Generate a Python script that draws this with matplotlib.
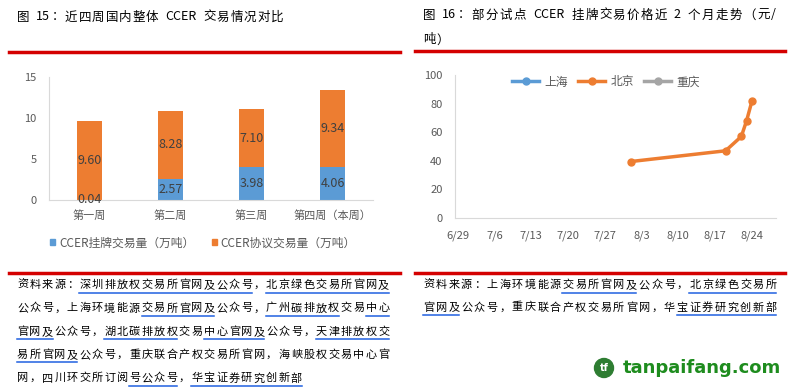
import numpy as np
import pandas as pd
import matplotlib
matplotlib.use('Agg')
import matplotlib.pyplot as plt
import matplotlib.dates as mdates
from matplotlib.lines import Line2D
from matplotlib.patches import Patch, Ellipse

plt.rcParams['font.family'] = ['Noto Sans CJK SC', 'DejaVu Sans']

# ---- data ----
weeks = ['第一周', '第二周', '第三周', '第四周（本周）']
listed_vol = [0.04, 2.57, 3.98, 4.06]        # CCER挂牌交易量（万吨）
negotiated_vol = [9.60, 8.28, 7.10, 9.34]    # CCER协议交易量（万吨）

price_dates = ['8/1', '8/19', '8/22', '8/23', '8/24']
beijing_price = [39.5, 47, 57, 68, 81.5]
shanghai_price = []
chongqing_price = []
date_ticks = ['6/29', '7/6', '7/13', '7/20', '7/27', '8/3', '8/10', '8/17', '8/24']

BLUE = '#5B9BD5'
ORANGE = '#ED7D31'
GRAY = '#A5A5A5'
TICK = '#595959'
SPINE = '#D9D9D9'
RED = '#D40000'
ULINE = '#2060E0'

W, H = 793, 390
fig = plt.figure(figsize=(W / 100, H / 100), dpi=100)
renderer = fig.canvas.get_renderer()


def fx(x):
    return x / W


def fy(y):
    return 1 - y / H


def hline(x0, x1, y, color, lw):
    fig.add_artist(Line2D([fx(x0), fx(x1)], [fy(y), fy(y)], color=color, lw=lw,
                          transform=fig.transFigure))


def chunks(seg):
    # split into single CJK chars, spaces and runs of latin chars
    out, buf = [], ''
    for ch in seg:
        if ord(ch) > 0x2e80 or ch == ' ':
            if buf:
                out.append(buf)
                buf = ''
            out.append(ch)
        else:
            buf += ch
    if buf:
        out.append(buf)
    return out


def put_line(x, y, parts, size, pitch, color='black'):
    # parts: list of (text, underlined)
    for seg, ul in parts:
        start = x
        for ch in chunks(seg):
            if ch == ' ':
                x += 5.5
                continue
            t = fig.text(fx(x), fy(y), ch, fontsize=size, color=color, va='center', ha='left')
            if ord(ch[0]) > 0x2e80:
                x += pitch
            else:
                x += t.get_window_extent(renderer).width + 1.5
        if ul:
            hline(start, x - (pitch - size * 100 / 72) - 0.5, y + 7.5, ULINE, 1.1)
    return x


# ---- left chart ----
ax1 = fig.add_axes([fx(49), fy(200), fx(373 - 49), (200 - 77) / H])
xpos = np.arange(len(weeks))
ax1.bar(xpos, listed_vol, width=0.32, color=BLUE, zorder=2)
ax1.bar(xpos, negotiated_vol, width=0.32, bottom=listed_vol, color=ORANGE, zorder=2)
for i in range(len(weeks)):
    ax1.text(xpos[i], listed_vol[i] / 2, f'{listed_vol[i]:.2f}', ha='center', va='center',
             fontsize=9, color='#404040', zorder=3)
    ax1.text(xpos[i], listed_vol[i] + negotiated_vol[i] / 2, f'{negotiated_vol[i]:.2f}',
             ha='center', va='center', fontsize=9, color='#404040', zorder=3)
ax1.set_xlim(-0.5, 3.5)
ax1.set_ylim(0, 15)
ax1.set_yticks([0, 5, 10, 15])
ax1.set_xticks(xpos)
ax1.set_xticklabels(weeks)
ax1.tick_params(length=0, labelsize=8, colors=TICK)
ax1.tick_params(axis='y', pad=9)
ax1.tick_params(axis='x', pad=7)
for s in ['top', 'right']:
    ax1.spines[s].set_visible(False)
for s in ['left', 'bottom']:
    ax1.spines[s].set_color(SPINE)
    ax1.spines[s].set_linewidth(0.8)

fig.legend(handles=[Patch(color=BLUE, label='CCER挂牌交易量（万吨）'),
                    Patch(color=ORANGE, label='CCER协议交易量（万吨）')],
           loc='center', bbox_to_anchor=(fx(203), fy(243)), ncol=2, frameon=False,
           fontsize=8.5, handlelength=0.45, handleheight=0.45, handletextpad=0.3,
           columnspacing=1.5, labelcolor=TICK)

# ---- right chart ----
ax2 = fig.add_axes([fx(455), fy(218), fx(776 - 455), (218 - 75) / H])
tick_d = pd.to_datetime(['2023/' + d for d in date_ticks])
px_d = pd.to_datetime(['2023/' + d for d in price_dates])
ax2.plot([], [], color=BLUE, lw=2.5, marker='o', ms=5, label='上海')
ax2.plot(px_d, beijing_price, color=ORANGE, lw=2.5, marker='o', ms=5, label='北京')
ax2.plot([], [], color=GRAY, lw=2.5, marker='o', ms=5, label='重庆')
t0 = mdates.date2num(tick_d[0])
ax2.set_xlim(t0 - 0.5, t0 + 60.6)
ax2.set_ylim(0, 100)
ax2.set_yticks(range(0, 101, 20))
ax2.set_xticks(tick_d)
ax2.set_xticklabels(date_ticks)
ax2.tick_params(length=0, labelsize=8, colors=TICK)
ax2.tick_params(axis='y', pad=9)
ax2.tick_params(axis='x', pad=9)
for s in ['top', 'right']:
    ax2.spines[s].set_visible(False)
for s in ['left', 'bottom']:
    ax2.spines[s].set_color(SPINE)
    ax2.spines[s].set_linewidth(0.8)
ax2.legend(loc='center', bbox_to_anchor=(fx(606 - 455) / fx(776 - 455), (218 - 82) / (218 - 75)),
           ncol=3, frameon=False, fontsize=8.5, handlelength=2.3, handletextpad=0.4,
           columnspacing=0.9, labelcolor=TICK)

# ---- titles ----
put_line(17, 17, [('图 15：近四周国内整体 CCER 交易情况对比', False)], 9, 13.5)
hline(9, 400, 52, RED, 2.5)
put_line(423, 15, [('图 16：部分试点 CCER 挂牌交易价格近 2 个月走势（元/', False)], 9, 13.9)
put_line(423, 40, [('吨）', False)], 9, 13.9)
hline(415, 785, 51, RED, 2.5)

# ---- sources ----
hline(9, 400, 273, RED, 2.5)
hline(415, 785, 273, RED, 2.5)
left_src = [
    [('资料来源：', False), ('深圳排放权交易所官网及公众号', True), ('，', False), ('北京绿色交易所官网及', True)],
    [('公众号，上海环境能源', False), ('交易所官网及', True), ('公众号，', False), ('广州碳排放权', True),
     ('交易', False), ('中心', True)],
    [('官网及', True), ('公众号，', False), ('湖北碳排放权', True), ('交易', False), ('中心官网及', True),
     ('公众号，', False), ('天津排放权交', True)],
    [('易所官网及', True), ('公众号，重庆联合产权交易所官网，海峡股权交易中心官', False)],
    [('网，四川环交所订阅', False), ('号公众号', True), ('，', False), ('华宝证券研究创新部', True)],
]
for i, parts in enumerate(left_src):
    put_line(17, 285 + i * 23.3, parts, 8, 12.45)

right_src = [
    [('资料来源：上海环境能源', False), ('交易所官网及', True), ('公众号，', False), ('北京绿色交易所', True)],
    [('官网及', True), ('公众号，重庆联合产权交易所官网，华', False), ('宝证券研究创新部', True)],
]
for i, parts in enumerate(right_src):
    put_line(423, 285 + i * 22.5, parts, 8, 12.68)

# ---- watermark ----
fig.add_artist(Ellipse((fx(604), fy(368)), fx(19), 19 / H, color='#2E7D32',
                       transform=fig.transFigure))
fig.text(fx(604), fy(368), 'tf', fontsize=7, color='white', fontweight='bold',
         ha='center', va='center', family='DejaVu Sans')
wm = fig.text(fx(623), fy(368), 'tanpaifang.com', fontsize=12, color='#1E8C1E', fontweight='bold',
              ha='left', va='center', family='DejaVu Sans')
wm.set_fontsize(12 * 159 / wm.get_window_extent(renderer).width)

fig.savefig('out.png', dpi=100)
